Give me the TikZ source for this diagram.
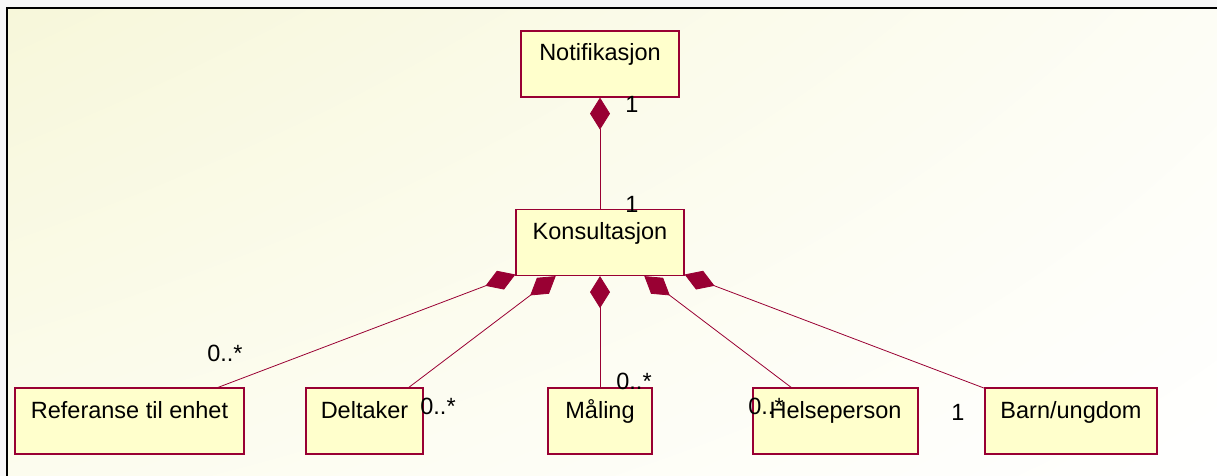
\documentclass[tikz,border=0pt]{standalone}
\usepackage{fontspec}
\setmainfont{Liberation Sans}
\usetikzlibrary{arrows.meta,shadings}
\definecolor{umlred}{HTML}{990033}
\definecolor{umlfill}{HTML}{FFFFCC}
\definecolor{bgul}{HTML}{F7F7DA}
\definecolor{bgur}{HTML}{FDFDF5}
\definecolor{bgll}{HTML}{FCFCEE}
\definecolor{bglr}{HTML}{FFFFFF}
\tikzset{
classbox/.style={rectangle, draw=umlred, fill=umlfill, line width=1.2pt, inner sep=0pt, text height=30pt, text depth=36pt, font=\fontsize{23.5}{28}\selectfont},
multlabel/.style={inner sep=0pt, font=\fontsize{23.5}{28}\selectfont},
composition/.style={draw=umlred, line width=0.8pt, arrows={Diamond[length=32pt,width=20pt]-}},
}

\begin{document}
\begin{tikzpicture}[x=1pt,y=-1pt]
    \useasboundingbox (0,0) rectangle (1217,476);
    \fill[black!3] (0,0) rectangle (1217,476);
    \shade[upper left=bgul, upper right=bgur, lower left=bgll, lower right=bglr] (7,8) rectangle (1217,476);
    \draw[line width=1.3pt] (1217,8) -- (7,8) -- (7,476);

    \node[classbox, minimum width=158pt] at (600,64) (notif) {Notifikasjon};
    \node[classbox, minimum width=168pt] at (600,242.5) (kons) {Konsultasjon};
    \node[classbox, minimum width=229pt] at (129.5,421) (ref) {Referanse til enhet};
    \node[classbox, minimum width=117pt] at (364.5,421) (delt) {Deltaker};
    \node[classbox, minimum width=104pt] at (600,421) (maal) {Måling};
    \node[classbox, minimum width=165pt] at (835.5,421) (helse) {Helseperson};
    \node[classbox, minimum width=172pt] at (1071,421) (barn) {Barn/ungdom};

     \draw[composition] (notif) -- (kons);
     \draw[composition] (kons) -- (ref);
     \draw[composition] (kons) -- (delt);
     \draw[composition] (kons) -- (maal);
     \draw[composition] (kons) -- (helse);
     \draw[composition] (kons) -- (barn);

    \node[multlabel] at (632,104) (mnotif) {1};
    \node[multlabel] at (632,204) (mkons) {1};
    \node[multlabel] at (225,353) (mref) {0..*};
    \node[multlabel] at (438,406) (mdelt) {0..*};
    \node[multlabel] at (634,381) (mmaal) {0..*};
    \node[multlabel] at (766,406) (mhelse) {0..*};
    \node[multlabel] at (958,412) (mbarn) {1};
\end{tikzpicture}
\end{document}
